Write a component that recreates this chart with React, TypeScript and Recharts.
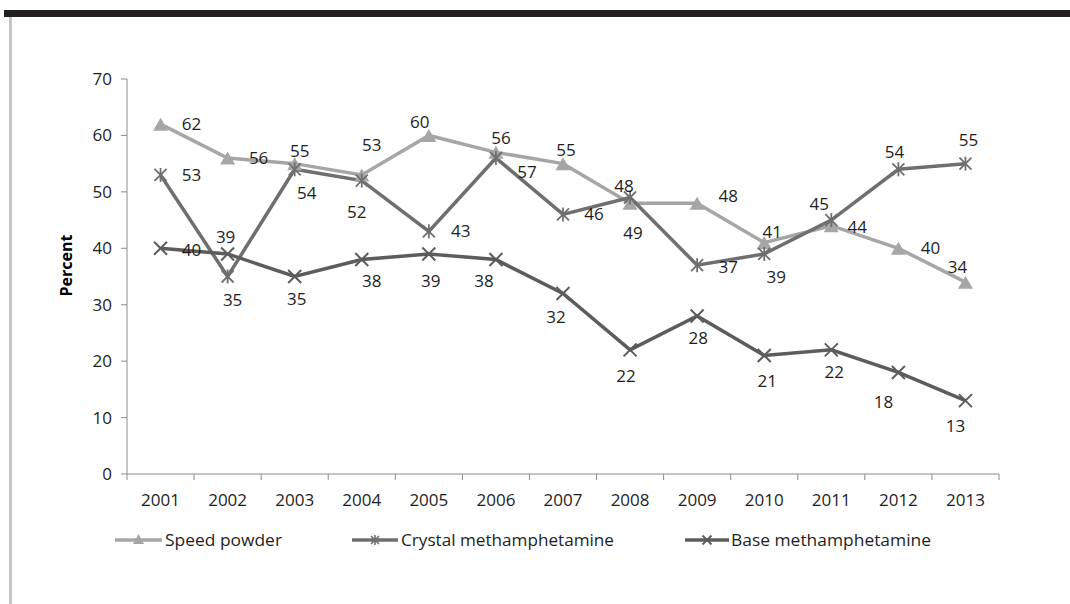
import React from 'react';
import { LineChart, Line, XAxis, YAxis, LabelList } from 'recharts';

const years = ['2001', '2002', '2003', '2004', '2005', '2006', '2007', '2008', '2009', '2010', '2011', '2012', '2013'];
const speedPowder = [62, 56, 55, 53, 60, 57, 55, 48, 48, 41, 44, 40, 34];
const crystalMeth = [53, 35, 54, 52, 43, 56, 46, 49, 37, 39, 45, 54, 55];
const baseMeth = [40, 39, 35, 38, 39, 38, 32, 22, 28, 21, 22, 18, 13];
const yTicks = [0, 10, 20, 30, 40, 50, 60, 70];
const seriesNames = ['Speed powder', 'Crystal methamphetamine', 'Base methamphetamine'];

// label placement offsets (label centre relative to point), in px
const speedLabelOffsets = [[31, 0], [31, 0], [5, -13], [10, -30], [-9, -13], [31, 20], [3, -14], [-6, -17], [31, -7], [8, -11], [26, 1], [32, 0], [-8, -15]];
const crystalLabelOffsets = [[31, 0], [5, 23], [12, 24], [-5, 31], [32, 0], [5, -20], [31, 0], [3, 35], [31, 2], [12, 23], [-12, -16], [-4, -17], [3, -24]];
const baseLabelOffsets = [[31, 2], [-2, -17], [2, 22], [10, 21], [2, 27], [-12, 21], [-7, 24], [-4, 26], [1, 22], [3, 25], [3, 22], [-15, 30], [-10, 25]];

const rows = years.map((y, i) => ({
  x: i + 1,
  year: y,
  speed: speedPowder[i],
  crystal: crystalMeth[i],
  base: baseMeth[i],
}));

const xTicks: number[] = [];
for (let i = 0; i <= years.length; i++) {
  xTicks.push(i + 0.5);
  if (i < years.length) xTicks.push(i + 1);
}

const FONT = '"Open Sans", sans-serif';
const SPEED_C = '#a6a6a6';
const CRYSTAL_C = '#6f6f6f';
const BASE_C = '#5c5c5c';
const AXIS_C = '#8c8c8c';
const TEXT_C = '#1e1e1e';

const Triangle = ({ cx, cy, w, h, color }: any) => (
  <polygon
    points={`${cx - w / 2},${cy + h / 2} ${cx + w / 2},${cy + h / 2} ${cx},${cy - h / 2}`}
    fill={color}
  />
);
const Asterisk = ({ cx, cy, r, color, sw }: any) => (
  <g stroke={color} strokeWidth={sw}>
    <line x1={cx - r} y1={cy - r} x2={cx + r} y2={cy + r} />
    <line x1={cx - r} y1={cy + r} x2={cx + r} y2={cy - r} />
    <line x1={cx} y1={cy - r - 1} x2={cx} y2={cy + r + 1} />
  </g>
);
const Cross = ({ cx, cy, r, color, sw }: any) => (
  <g stroke={color} strokeWidth={sw}>
    <line x1={cx - r} y1={cy - r} x2={cx + r} y2={cy + r} />
    <line x1={cx - r} y1={cy + r} x2={cx + r} y2={cy - r} />
  </g>
);

const speedDot = (p: any) => <Triangle key={`s${p.index}`} cx={p.cx} cy={p.cy} w={15} h={13} color={SPEED_C} />;
const crystalDot = (p: any) => <Asterisk key={`c${p.index}`} cx={p.cx} cy={p.cy} r={6} color={CRYSTAL_C} sw={1.8} />;
const baseDot = (p: any) => <Cross key={`b${p.index}`} cx={p.cx} cy={p.cy} r={6.5} color={BASE_C} sw={2} />;

const makeLabel = (offsets: number[][]) => (p: any) => {
  const { x, y, value, index } = p;
  const o = offsets[index] || [0, -15];
  return (
    <text
      key={`l${index}`}
      x={x + o[0]}
      y={y + o[1] + 6}
      textAnchor="middle"
      fontFamily={FONT}
      fontSize={17}
      fill={TEXT_C}
    >
      {value}
    </text>
  );
};

const XTick = (props: any) => {
  const { x, y, payload } = props;
  const v = payload.value;
  if (Number.isInteger(v)) {
    return (
      <text x={x} y={y + 12} textAnchor="middle" fontFamily={FONT} fontSize={17} fill={TEXT_C}>
        {years[v - 1]}
      </text>
    );
  }
  return <line x1={x} x2={x} y1={y - 20} y2={y - 14} stroke={AXIS_C} strokeWidth={1} />;
};

const YLabel = (props: any) => {
  const vb = props.viewBox || {};
  const cy = (vb.y || 0) + (vb.height || 0) / 2 - 11;
  const cx = 72;
  return (
    <text
      x={cx}
      y={cy}
      transform={`rotate(-90 ${cx} ${cy})`}
      textAnchor="middle"
      fontFamily={FONT}
      fontWeight="bold"
      fontSize={16}
      fill="#000"
    >
      Percent
    </text>
  );
};

const legendItems = [
  { name: seriesNames[0], color: SPEED_C, x0: 115, x1: 162, tx: 165, tl: 117, kind: 'tri' },
  { name: seriesNames[1], color: CRYSTAL_C, x0: 352, x1: 398, tx: 401, tl: 213, kind: 'ast' },
  { name: seriesNames[2], color: BASE_C, x0: 685, x1: 729, tx: 731, tl: 200, kind: 'x' },
];

const Legend = () => (
  <svg width={1070} height={40} style={{ position: 'absolute', left: 0, top: 520 }}>
    {legendItems.map((it) => {
      const cy = 20;
      const mx = (it.x0 + it.x1) / 2;
      return (
        <g key={it.name}>
          <line x1={it.x0} x2={it.x1} y1={cy} y2={cy} stroke={it.color} strokeWidth={3.5} />
          {it.kind === 'tri' && <Triangle cx={mx} cy={cy - 1} w={11} h={10} color={it.color} />}
          {it.kind === 'ast' && <Asterisk cx={mx} cy={cy} r={4} color={it.color} sw={1.6} />}
          {it.kind === 'x' && <Cross cx={mx} cy={cy} r={4.5} color={it.color} sw={1.8} />}
          <text
            x={it.tx}
            y={cy + 6}
            fontFamily={FONT}
            fontSize={17}
            fill={TEXT_C}
            textLength={it.tl}
            lengthAdjust="spacingAndGlyphs"
          >
            {it.name}
          </text>
        </g>
      );
    })}
  </svg>
);

export default function App() {
  return (
    <div style={{ position: 'absolute', left: 0, top: 0, width: 1070, height: 604, background: '#fff', overflow: 'hidden' }}>
      <div style={{ position: 'absolute', left: 4, top: 10, width: 1066, height: 7, background: '#231f20' }} />
      <div style={{ position: 'absolute', left: 9, top: 17, width: 3, height: 587, background: '#c6c6c6' }} />
      <LineChart
        width={1070}
        height={604}
        data={rows}
        margin={{ top: 79, right: 71, left: 0, bottom: 100 }}
        style={{ position: 'absolute', left: 0, top: 0 }}
      >
        <XAxis
          dataKey="x"
          type="number"
          domain={[0.5, 13.5]}
          ticks={xTicks}
          interval={0}
          allowDecimals
          height={30}
          tickSize={6}
          tickMargin={14}
          tickLine={false}
          axisLine={{ stroke: AXIS_C, strokeWidth: 1 }}
          tick={<XTick />}
        />
        <YAxis
          type="number"
          domain={[0, 70]}
          ticks={yTicks}
          interval={0}
          width={127}
          tickSize={6}
          tickMargin={9}
          tickLine={{ stroke: AXIS_C }}
          axisLine={{ stroke: AXIS_C, strokeWidth: 1 }}
          tick={{ fontFamily: FONT, fontSize: 17, fill: TEXT_C }}
          label={<YLabel />}
        />
        <Line
          dataKey="speed"
          name={seriesNames[0]}
          stroke={SPEED_C}
          strokeWidth={3.5}
          dot={speedDot}
          activeDot={false}
          isAnimationActive={false}
        >
          <LabelList dataKey="speed" content={makeLabel(speedLabelOffsets)} />
        </Line>
        <Line
          dataKey="crystal"
          name={seriesNames[1]}
          stroke={CRYSTAL_C}
          strokeWidth={3.5}
          dot={crystalDot}
          activeDot={false}
          isAnimationActive={false}
        >
          <LabelList dataKey="crystal" content={makeLabel(crystalLabelOffsets)} />
        </Line>
        <Line
          dataKey="base"
          name={seriesNames[2]}
          stroke={BASE_C}
          strokeWidth={3.5}
          dot={baseDot}
          activeDot={false}
          isAnimationActive={false}
        >
          <LabelList dataKey="base" content={makeLabel(baseLabelOffsets)} />
        </Line>
      </LineChart>
      <Legend />
    </div>
  );
}
